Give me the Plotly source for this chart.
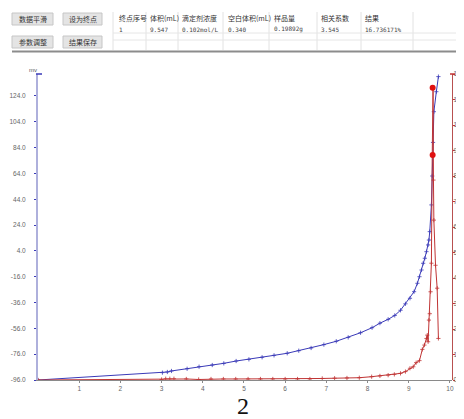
import plotly.graph_objects as go

# ---- data ----
blue_x = [0, 3.02, 3.14, 3.24, 3.62, 3.91, 4.23, 4.51, 4.81, 5.12, 5.44, 5.73, 6.05, 6.33, 6.63,
          6.94, 7.24, 7.53, 7.83, 8.11, 8.3, 8.5, 8.66, 8.8, 8.92, 9.03, 9.13, 9.21, 9.26, 9.31,
          9.35, 9.39, 9.43, 9.47, 9.49, 9.51, 9.55, 9.57, 9.59, 9.61, 9.67, 9.72]
blue_mv = [-96, -90.3, -89.8, -89, -87.3, -85.7, -84.4, -83.1, -81.3, -80, -78.4, -76.9, -75.3,
           -73.3, -71.2, -68.6, -66, -63, -59.4, -55.5, -52, -49, -46, -42, -37, -32.7, -27.6,
           -21.1, -16, -10.8, -5.6, -1.7, 3.4, 8.6, 12.4, 18.9, 39.6, 62, 88, 111.8, 127.3, 139]

red_x = [0, 3.0, 3.1, 3.2, 3.3, 3.6, 3.9, 4.2, 4.5, 4.8, 5.1, 5.4, 5.7, 6.0, 6.3, 6.6, 6.9, 7.2,
         7.5, 7.8, 8.1, 8.3, 8.5, 8.65, 8.8, 8.92, 9.03, 9.11, 9.18, 9.26, 9.33, 9.38, 9.43, 9.45,
         9.47, 9.49, 9.51, 9.53, 9.55, 9.57, 9.59, 9.6, 9.61, 9.65, 9.69, 9.72]
red_d = [0, 0.2, 0.5, 0.5, 0.5, 0.4, 0.2, 0.4, 0.4, 0.4, 0.4, 0.4, 0.4, 0.4, 0.4, 0.4, 0.6, 0.7,
         0.8, 0.9, 1.3, 1.6, 1.9, 2.2, 2.6, 3.3, 4.6, 5.2, 6.8, 7.6, 12, 13.7, 16.3, 17.6, 15, 23.5,
         26, 34.6, 45.8, 88.2, 114.6, 78.4, 62.7, 45, 36, 16.3]

end_x = [9.58, 9.58]
end_d = [114.6, 88.2]

left_ticks = [-96, -76, -56, -36, -16, 4, 24, 44, 64, 84, 104, 124]
right_ticks = [0, 10, 20, 30, 40, 50, 60, 70, 80, 90, 100, 110, 120]
x_ticks = [1, 2, 3, 4, 5, 6, 7, 8, 9, 10]

buttons = ["数据平滑", "设为终点", "参数调整", "结果保存"]
col_heads = ["终点序号", "体积(mL)", "滴定剂浓度", "空白体积(mL)", "样品量", "相关系数", "结果"]
col_vals = ["1", "9.547", "0.102mol/L", "0.340", "0.19892g", "3.545", "16.736171%"]

# ---- layout geometry (page pixels; the page body has an 8px margin) ----
OFF = 8
PAGE_W, PAGE_H = 464, 419
W, H = PAGE_W - OFF, PAGE_H - OFF
PX0, PX1, PY0, PY1 = 38, 452, 74, 380


def fx(px):
    return (px - PX0) / (PX1 - PX0)


def fy(py):
    return (PY1 - py) / (PY1 - PY0)


fig = go.Figure()
BLUE = "#3a3ab8"
RED = "#c03434"

fig.add_trace(go.Scatter(x=blue_x, y=blue_mv, mode="lines+markers",
                         line=dict(color=BLUE, width=1),
                         marker=dict(symbol="cross-thin", size=3, line=dict(color=BLUE, width=0.8), color=BLUE),
                         showlegend=False, yaxis="y"))
fig.add_trace(go.Scatter(x=red_x, y=red_d, mode="lines+markers",
                         line=dict(color=RED, width=1),
                         marker=dict(symbol="cross-thin", size=3, line=dict(color=RED, width=0.8), color=RED),
                         showlegend=False, yaxis="y2"))
fig.add_trace(go.Scatter(x=end_x, y=end_d, mode="markers",
                         marker=dict(symbol="circle", size=6, color="#e01010"),
                         showlegend=False, yaxis="y2"))

tickfont = dict(family="Liberation Sans", size=6.5, color="#666666")

fig.update_layout(
    width=W, height=H,
    margin=dict(l=PX0 - OFF, r=PAGE_W - PX1, t=PY0 - OFF, b=PAGE_H - PY1, autoexpand=False),
    paper_bgcolor="white", plot_bgcolor="white",
    xaxis=dict(range=[0, 10.05], tickvals=x_ticks, ticktext=[str(v) for v in x_ticks],
               showgrid=False, zeroline=False, showline=True, linecolor="#8a8a8a", linewidth=1,
               ticks="outside", ticklen=2, tickcolor="#8a8a8a", tickfont=tickfont),
    yaxis=dict(range=[-96, 141], tickvals=left_ticks, ticktext=[f"{v:.1f}" for v in left_ticks],
               showgrid=False, zeroline=False, showline=True, linecolor="#aeb0dc", linewidth=2,
               ticks="outside", ticklen=2, tickcolor=BLUE, tickfont=tickfont, ticklabelstandoff=7),
    yaxis2=dict(range=[0, 120], tickvals=right_ticks, ticktext=[str(v) for v in right_ticks],
                overlaying="y", side="right", anchor="free", position=1.0,
                showgrid=False, zeroline=False, showline=True, linecolor="#b85050", linewidth=1.2,
                ticks="outside", ticklen=2, tickcolor=RED, tickfont=tickfont, ticklabelstandoff=-3),
)

shapes = []
ann = []

# buttons
btn_boxes = [(12, 13, 53, 25), (63, 13, 102, 25), (12, 36, 53, 48), (63, 36, 102, 48)]
for (x0, y0, x1, y1), label in zip(btn_boxes, buttons):
    shapes.append(dict(type="rect", xref="paper", yref="paper",
                       x0=fx(x0), x1=fx(x1), y0=fy(y1), y1=fy(y0),
                       fillcolor="#e4e4e4", line=dict(color="#c6c6c6", width=1), layer="above"))
    ann.append(dict(xref="paper", yref="paper", x=fx((x0 + x1) / 2), y=fy((y0 + y1) / 2),
                    text=label, showarrow=False, xanchor="center", yanchor="middle",
                    font=dict(family="Noto Sans CJK SC", size=7, color="#333333")))

# table lines
vlines = [113, 146, 178, 223, 269, 317, 361, 413]
for vx in vlines:
    shapes.append(dict(type="line", xref="paper", yref="paper", x0=fx(vx), x1=fx(vx),
                       y0=fy(12), y1=fy(50), line=dict(color="#e2e2e2", width=1)))
for hy in [33, 40]:
    shapes.append(dict(type="line", xref="paper", yref="paper", x0=fx(113), x1=fx(464),
                       y0=fy(hy), y1=fy(hy), line=dict(color="#e6e6e6", width=1)))
shapes.append(dict(type="line", xref="paper", yref="paper", x0=fx(12), x1=fx(464),
                   y0=fy(51.5), y1=fy(51.5), line=dict(color="#8c8c8c", width=2)))

col_x = [117, 148, 180, 226, 272, 319, 363]
for cx, h, v in zip(col_x, col_heads, col_vals):
    ann.append(dict(xref="paper", yref="paper", x=fx(cx), y=fy(18), text=h, showarrow=False,
                    xanchor="left", yanchor="middle",
                    font=dict(family="Noto Sans CJK SC", size=7, color="#333333")))
    ann.append(dict(xref="paper", yref="paper", x=fx(cx), y=fy(29), text=v, showarrow=False,
                    xanchor="left", yanchor="middle",
                    font=dict(family="DejaVu Sans Mono", size=6, color="#444444")))

# axis label and caption
ann.append(dict(xref="paper", yref="paper", x=fx(33), y=fy(70), text="mv", showarrow=False,
                xanchor="center", yanchor="middle", font=dict(family="Liberation Sans", size=6, color="#555555")))
ann.append(dict(xref="paper", yref="paper", x=fx(243), y=fy(406), text="2", showarrow=False,
                xanchor="center", yanchor="middle", font=dict(family="Liberation Serif", size=24, color="#111111")))

# axis-end marks
shapes.append(dict(type="line", xref="paper", yref="paper", x0=fx(36), x1=fx(42), y0=fy(74), y1=fy(74),
                   line=dict(color=BLUE, width=1.5)))
shapes.append(dict(type="line", xref="paper", yref="paper", x0=fx(450), x1=fx(455), y0=fy(74), y1=fy(74),
                   line=dict(color=RED, width=1.5)))

fig.update_layout(shapes=shapes, annotations=ann)
fig.write_html("out.html")
